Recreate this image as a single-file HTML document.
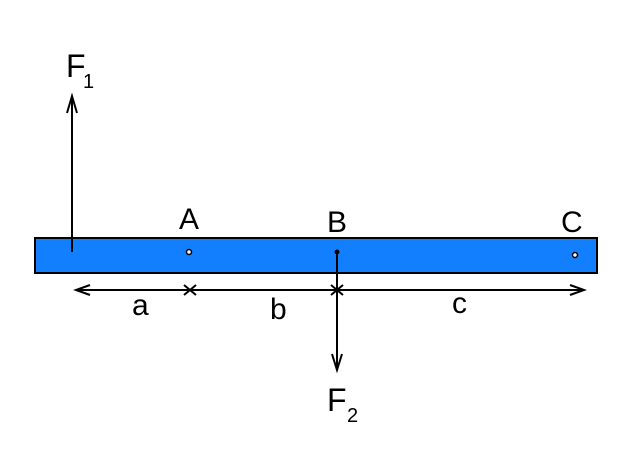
<!DOCTYPE html>
<html><head><style>body{margin:0;background:#fff}svg{display:block}text{font-family:"Liberation Sans",sans-serif;fill:#000}</style></head>
<body>
<svg width="622" height="450" viewBox="0 0 622 450">
<rect x="35" y="238" width="562" height="35" fill="#1280fe" stroke="#000" stroke-width="2"/>
<g stroke="#000" stroke-width="2" fill="none">
<line x1="72" y1="252" x2="72" y2="96"/>
<polyline points="67,113 72,96 77,113"/>
<line x1="76" y1="290" x2="584" y2="290"/>
<polyline points="90,285 76,290 90,295"/>
<polyline points="570,285 584,290 570,295"/>
<polyline points="184,285 190,290 184,295"/>
<polyline points="196,285 190,290 196,295"/>
<polyline points="331,285 337,290 331,295"/>
<polyline points="343,285 337,290 343,295"/>
<line x1="337" y1="252" x2="337" y2="370"/>
<polyline points="332,354 337,370 342,354"/>
</g>
<circle cx="189" cy="252" r="2.5" fill="#fff" stroke="#000" stroke-width="1.5"/>
<circle cx="337" cy="252" r="2.5" fill="#000"/>
<circle cx="575" cy="255" r="2.5" fill="#fff" stroke="#000" stroke-width="1.5"/>
<text x="66" y="77" font-size="32">F</text><text x="83" y="88" font-size="20">1</text>
<text x="179" y="229" font-size="30">A</text>
<text x="327" y="232" font-size="30">B</text>
<text x="561" y="232" font-size="30">C</text>
<text x="132" y="315" font-size="30">a</text>
<text x="270" y="319" font-size="30">b</text>
<text x="452" y="313" font-size="30">c</text>
<text x="327" y="411" font-size="32">F</text><text x="347" y="422" font-size="20">2</text>
</svg>
</body></html>
